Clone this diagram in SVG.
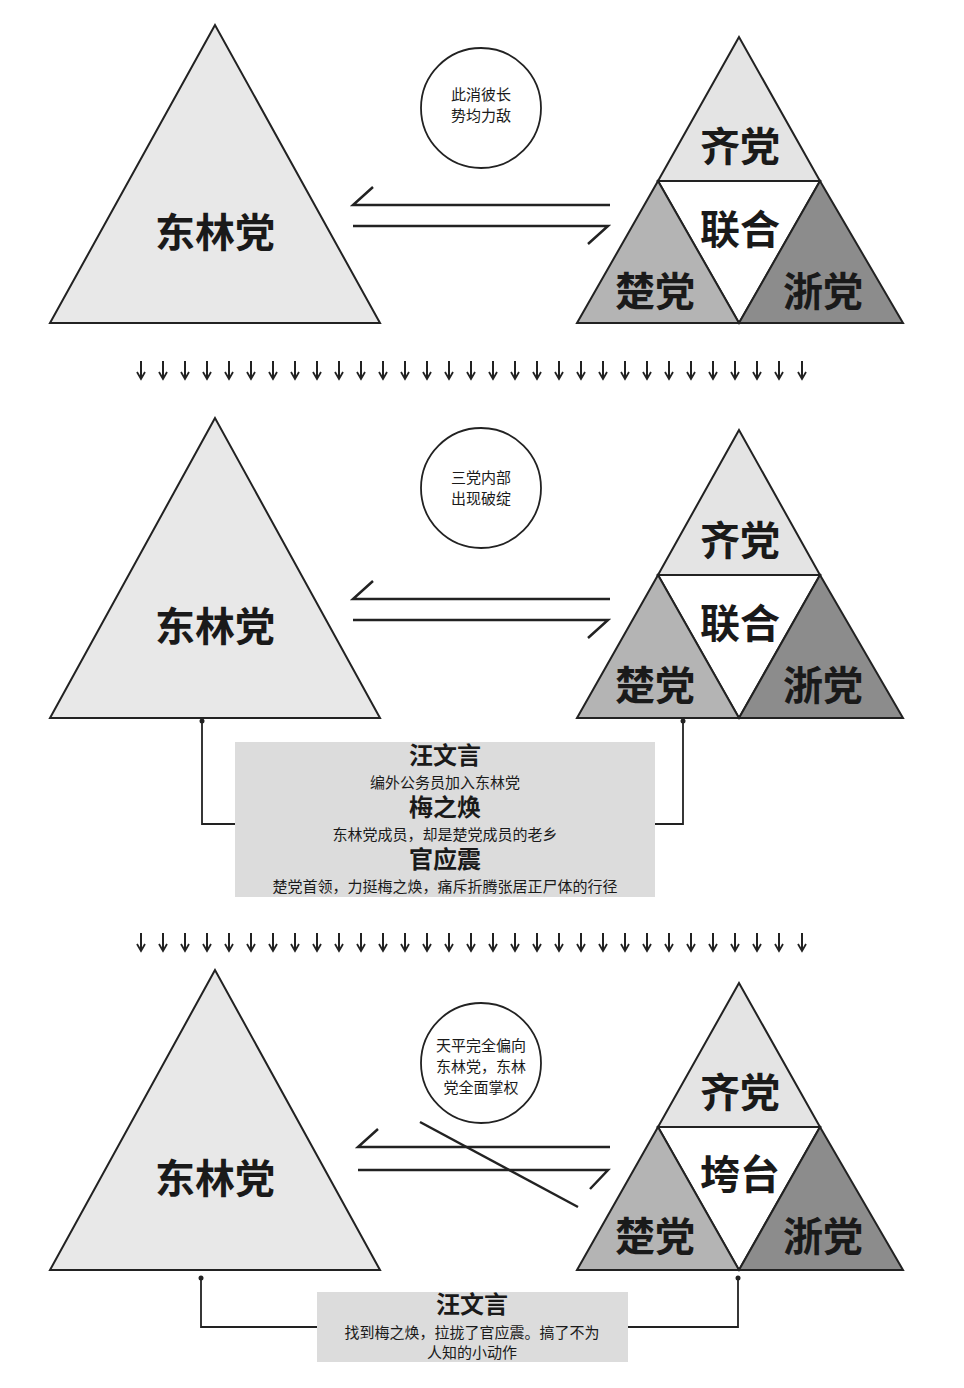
<svg xmlns="http://www.w3.org/2000/svg" xmlns:xlink="http://www.w3.org/1999/xlink" width="964" height="1388" viewBox="0 0 964 1388">
<style>
.tri{stroke:#222;stroke-width:2;stroke-linejoin:miter}
.l1{fill:#e8e8e8}.l2{fill:#e4e4e4}.mid{fill:#fff}.lb{fill:#b4b4b4}.rb{fill:#8c8c8c}
.big{font-family:"Liberation Serif","Noto Sans CJK SC",serif;font-weight:bold;font-size:40px;fill:#1a1a1a;text-anchor:middle}
.hd{font-family:"Liberation Serif","Noto Sans CJK SC",serif;font-weight:bold;font-size:24px;fill:#1a1a1a;text-anchor:middle}
.sm{font-family:"Liberation Sans","Noto Sans CJK SC",sans-serif;font-size:15px;fill:#1a1a1a;text-anchor:middle}
.ln{stroke:#222;stroke-width:2.5;fill:none}
.cn{stroke:#222;stroke-width:1.8;fill:none}
.circ{fill:#fff;stroke:#222;stroke-width:1.8}
.box{fill:#dcdcdc}
</style>
<defs>
<g id="dn"><line x1="0" y1="-9" x2="0" y2="7" stroke="#222" stroke-width="2"/><path d="M-4,2 L0,9 L4,2" stroke="#222" stroke-width="1.8" fill="none"/></g>
<g id="row">
<use xlink:href="#dn" x="141"/><use xlink:href="#dn" x="163"/><use xlink:href="#dn" x="185"/><use xlink:href="#dn" x="207"/><use xlink:href="#dn" x="229"/><use xlink:href="#dn" x="251"/><use xlink:href="#dn" x="273"/><use xlink:href="#dn" x="295"/><use xlink:href="#dn" x="317"/><use xlink:href="#dn" x="339"/><use xlink:href="#dn" x="361"/><use xlink:href="#dn" x="383"/><use xlink:href="#dn" x="405"/><use xlink:href="#dn" x="427"/><use xlink:href="#dn" x="449"/><use xlink:href="#dn" x="471"/><use xlink:href="#dn" x="493"/><use xlink:href="#dn" x="515"/><use xlink:href="#dn" x="537"/><use xlink:href="#dn" x="559"/><use xlink:href="#dn" x="581"/><use xlink:href="#dn" x="603"/><use xlink:href="#dn" x="625"/><use xlink:href="#dn" x="647"/><use xlink:href="#dn" x="669"/><use xlink:href="#dn" x="691"/><use xlink:href="#dn" x="713"/><use xlink:href="#dn" x="735"/><use xlink:href="#dn" x="757"/><use xlink:href="#dn" x="779"/><use xlink:href="#dn" x="802"/>
</g>
<circle id="dot" r="2.5" fill="#222"/>
</defs>

<!-- Section 1 -->
<g id="donglin1"><polygon class="tri l1" points="215,25 50,323 380,323"/><text class="big" x="215" y="247">东林党</text></g>
<g id="alliance1">
<polygon class="tri l2" points="739,37 658,181 820,181"/>
<polygon class="tri mid" points="658,181 820,181 739,323"/>
<polygon class="tri lb" points="658,181 577,323 739,323"/>
<polygon class="tri rb" points="820,181 739,323 903,323"/>
<text class="big" x="740" y="161">齐党</text><text class="big" x="740" y="244">联合</text>
<text class="big" x="655" y="306">楚党</text><text class="big" x="823" y="306">浙党</text>
</g>
<g id="bubble1"><circle class="circ" cx="481" cy="108" r="60"/><text class="sm" x="481" y="100">此消彼长</text><text class="sm" x="481" y="121">势均力敌</text></g>

<!-- Section 2 -->
<g id="donglin2"><polygon class="tri l1" points="215,418 50,718 380,718"/><text class="big" x="215" y="641">东林党</text></g>
<g id="alliance2">
<polygon class="tri l2" points="739,430 658,575 820,575"/>
<polygon class="tri mid" points="658,575 820,575 739,718"/>
<polygon class="tri lb" points="658,575 577,718 739,718"/>
<polygon class="tri rb" points="820,575 739,718 903,718"/>
<text class="big" x="740" y="555">齐党</text><text class="big" x="740" y="638">联合</text>
<text class="big" x="655" y="700">楚党</text><text class="big" x="823" y="700">浙党</text>
</g>
<g id="bubble2"><circle class="circ" cx="481" cy="488" r="60"/><text class="sm" x="481" y="483">三党内部</text><text class="sm" x="481" y="504">出现破绽</text></g>
<g id="note2"><rect class="box" x="235" y="742" width="420" height="155"/>
<text class="hd" x="445" y="764">汪文言</text><text class="sm" x="445" y="788">编外公务员加入东林党</text>
<text class="hd" x="445" y="816">梅之焕</text><text class="sm" x="445" y="840">东林党成员，却是楚党成员的老乡</text>
<text class="hd" x="445" y="868">官应震</text><text class="sm" x="445" y="892">楚党首领，力挺梅之焕，痛斥折腾张居正尸体的行径</text></g>

<!-- Section 3 -->
<g id="donglin3"><polygon class="tri l1" points="215,970 50,1270 380,1270"/><text class="big" x="215" y="1193">东林党</text></g>
<g id="alliance3">
<polygon class="tri l2" points="739,983 658,1127 820,1127"/>
<polygon class="tri mid" points="658,1127 820,1127 739,1270"/>
<polygon class="tri lb" points="658,1127 577,1270 739,1270"/>
<polygon class="tri rb" points="820,1127 739,1270 903,1270"/>
<text class="big" x="740" y="1107">齐党</text><text class="big" x="740" y="1189">垮台</text>
<text class="big" x="655" y="1251">楚党</text><text class="big" x="823" y="1251">浙党</text>
</g>
<g id="bubble3"><circle class="circ" cx="481" cy="1063" r="60"/><text class="sm" x="481" y="1051">天平完全偏向</text><text class="sm" x="481" y="1072">东林党，东林</text><text class="sm" x="481" y="1093">党全面掌权</text></g>
<g id="note3"><rect class="box" x="317" y="1292" width="311" height="70"/>
<text class="hd" x="472" y="1313">汪文言</text><text class="sm" x="472" y="1338">找到梅之焕，拉拢了官应震。搞了不为</text><text class="sm" x="472" y="1358">人知的小动作</text></g>

<g id="connectors">
<path class="ln" d="M610,205 H353 L373,187"/><path class="ln" d="M353,226 H608 L588,244"/>
<use xlink:href="#row" y="370"/>
<path class="ln" d="M610,599 H353 L373,581"/><path class="ln" d="M353,620 H608 L588,638"/>
<path class="cn" d="M202,719 V824 H235"/><path class="cn" d="M683,719 V824 H655"/>
<use xlink:href="#dot" x="202" y="721"/><use xlink:href="#dot" x="683" y="721"/>
<use xlink:href="#row" y="942"/>
<path class="ln" d="M610,1147 H358 L378,1129"/><path class="ln" d="M358,1170 H608 L590,1189"/>
<line class="ln" x1="420" y1="1122" x2="578" y2="1207"/>
<path class="cn" d="M201,1278 V1327 H317"/><path class="cn" d="M738,1278 V1327 H628"/>
<use xlink:href="#dot" x="201" y="1278"/><use xlink:href="#dot" x="738" y="1278"/>
</g>
</svg>
